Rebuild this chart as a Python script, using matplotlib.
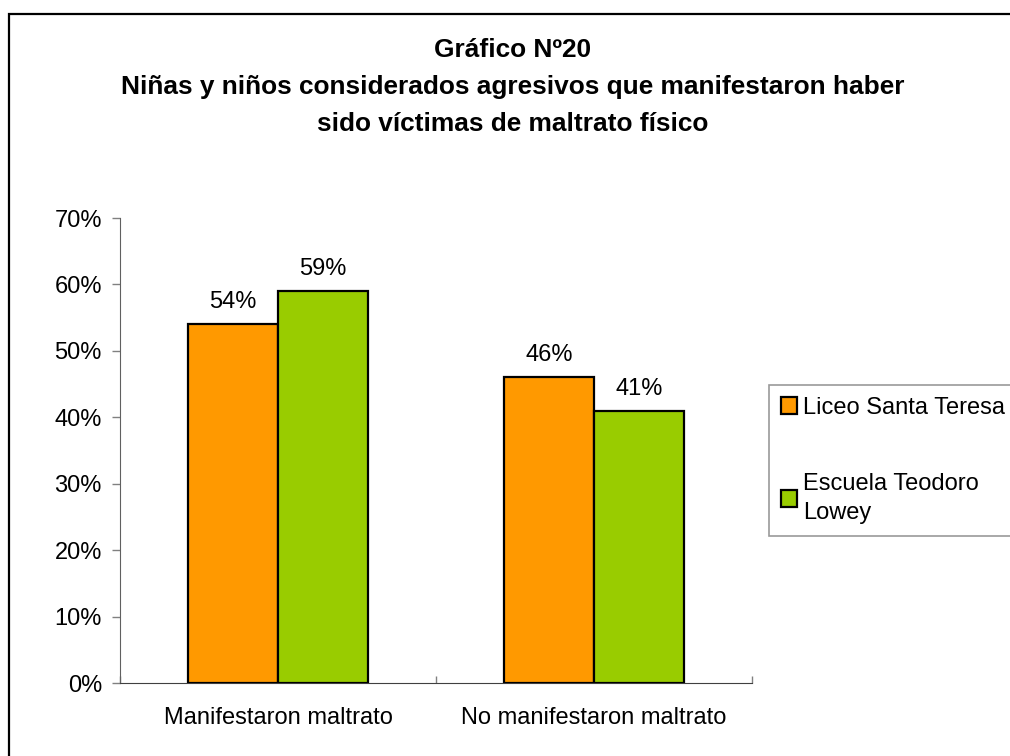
import matplotlib
matplotlib.use("Agg")
import matplotlib.pyplot as plt
from matplotlib.patches import Rectangle
from matplotlib.ticker import FuncFormatter
import numpy as np

plt.rcParams['font.family'] = ['Liberation Sans', 'DejaVu Sans']

categories = ["Manifestaron maltrato", "No manifestaron maltrato"]
series_names = ["Liceo Santa Teresa", "Escuela Teodoro\nLowey"]
liceo = [54, 46]
escuela = [59, 41]
yticks = [0, 10, 20, 30, 40, 50, 60, 70]
title = "Gráfico Nº20\nNiñas y niños considerados agresivos que manifestaron haber\nsido víctimas de maltrato físico"

W, H = 1010, 756
fig = plt.figure(figsize=(W/100, H/100), dpi=100)

# outer chart frame
fig.patches.append(Rectangle((9/W, -0.05), 1.1, 1 - 14/H + 0.05, transform=fig.transFigure,
                             fill=False, edgecolor='black', linewidth=1.6, zorder=0))

ax = fig.add_axes([120/W, 1 - 683/H, (752-120)/W, (683-218)/H])
x = np.arange(len(categories))
bw = 0.285
colors = ['#FF9900', '#99CC00']
b1 = ax.bar(x - bw/2, liceo, bw, color=colors[0], edgecolor='black', linewidth=1.6,
            label=series_names[0], zorder=3)
b2 = ax.bar(x + bw/2, escuela, bw, color=colors[1], edgecolor='black', linewidth=1.6,
            label=series_names[1], zorder=3)
for bars, vals in ((b1, liceo), (b2, escuela)):
    for r, v in zip(bars, vals):
        ax.annotate(f"{v}%", (r.get_x() + r.get_width()/2, v), xytext=(0, 8),
                    textcoords='offset points', ha='center', va='bottom', fontsize=17)

ax.set_xlim(-0.5, 1.5)
ax.set_ylim(0, 70)
ax.set_yticks(yticks)
ax.yaxis.set_major_formatter(FuncFormatter(lambda v, p: f"{int(v)}%"))
ax.set_xticks([-0.5, 0.5, 1.5])
ax.set_xticklabels([])
ax.set_xticks(x, minor=True)
ax.set_xticklabels(categories, minor=True, fontsize=17)
ax.tick_params(axis='x', which='major', direction='in', length=5, color='#808080', width=1)
ax.tick_params(axis='x', which='minor', length=0, pad=17.5)
ax.tick_params(axis='y', direction='out', length=6, color='#808080', width=1, labelsize=17, pad=7)
for s in ('top', 'right'):
    ax.spines[s].set_visible(False)
ax.spines['left'].set_color('#606060')
ax.spines['bottom'].set_color('#404040')

fig.text(513/W, 1 - 87/H, title, ha='center', va='center', fontsize=18.9, fontweight='bold',
         linespacing=1.68)

leg = fig.legend(handles=[b1, b2], loc='upper left', bbox_to_anchor=(769/W, 1 - 385/H),
                 fontsize=17, frameon=True, fancybox=False, edgecolor='#808080',
                 handlelength=0.7, handleheight=0.7, handletextpad=0.25,
                 labelspacing=2.3, borderpad=0.5, borderaxespad=0)
for t in leg.get_texts():
    t.set_linespacing(1.4)
leg.get_frame().set_linewidth(1.2)

fig.savefig("out.png", dpi=100)
